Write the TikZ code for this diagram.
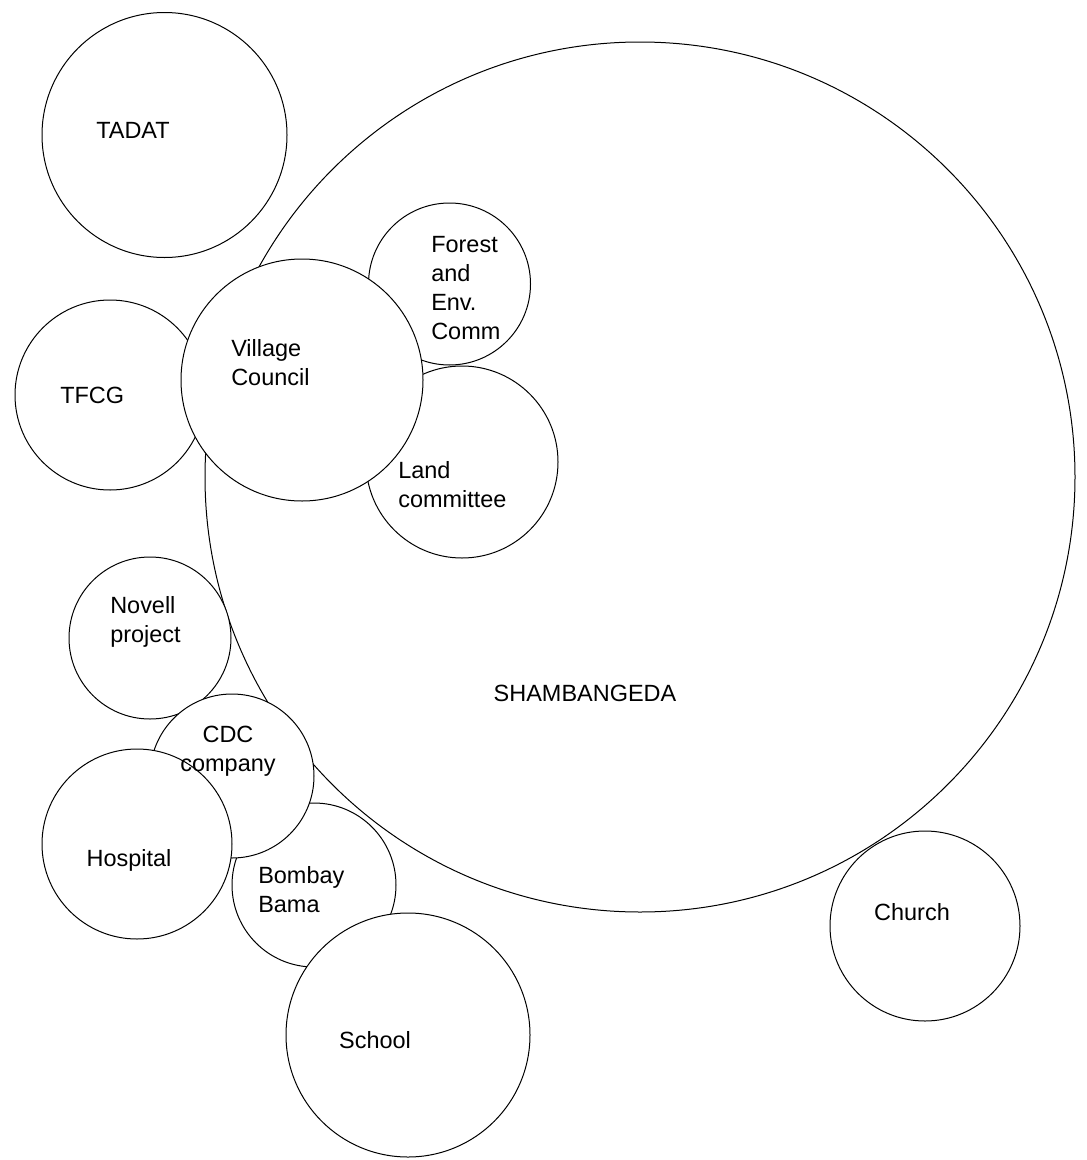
\documentclass[tikz,border=0pt]{standalone}
\usepackage{fontspec}
\setmainfont{Liberation Sans}
\usepackage{tikz}

\begin{document}
\begin{tikzpicture}[
  x=0.75pt, y=-0.75pt,
  org/.style={draw, circle, fill=white, line width=0.75pt, inner sep=0pt},
  lbl/.style={inner sep=0pt, align=left, font=\fontsize{17.6}{21.75}\selectfont}
]
\useasboundingbox (0,0) rectangle (1087,1160);

% circles, back to front
\node[org, minimum size=652.5pt] (shamba) at (640,477) {};
\node[org, minimum size=121.5pt] (novell) at (150,638) {};
\node[org, minimum size=123pt] (bombay) at (314,885) {};
\node[org, minimum size=123pt] (cdc) at (232,776) {};
\node[org, minimum size=142.5pt] (hospital) at (137,844) {};
\node[org, minimum size=183pt] (school) at (408,1035) {};
\node[org, minimum size=142.5pt] (tfcg) at (110,395) {};
\node[org, minimum size=144pt] (land) at (462,462) {};
\node[org, minimum size=121.5pt] (forest) at (449.5,284) {};
\node[org, minimum size=181.5pt] (council) at (302,380) {};
\node[org, minimum size=183.75pt] (tadat) at (164.5,135) {};
\node[org, minimum size=142.5pt] (church) at (925,926) {};

% labels
\node[lbl] (shambaT) at (585,693) {SHAMBANGEDA};
\node[lbl, anchor=west] (tadatT) at (96,130) {TADAT};
\node[lbl, anchor=west] (tfcgT) at (60,395) {TFCG};
\node[lbl, anchor=west] (councilT) at (231,362.5) {Village\\Council};
\node[lbl, anchor=west] (forestT) at (431,288) {Forest\\and\\Env.\\Comm};
\node[lbl, anchor=west] (landT) at (398,484.5) {Land\\committee};
\node[lbl, anchor=west] (novellT) at (110,622) {Novell\\project};
\node[lbl, align=center] (cdcT) at (228,751) {CDC\\company};
\node[lbl] (hospitalT) at (129,860) {Hospital};
\node[lbl, anchor=west] (bombayT) at (258,889.5) {Bombay\\Bama};
\node[lbl] (schoolT) at (375,1040) {School};
\node[lbl] (churchT) at (912,912) {Church};
\end{tikzpicture}
\end{document}
